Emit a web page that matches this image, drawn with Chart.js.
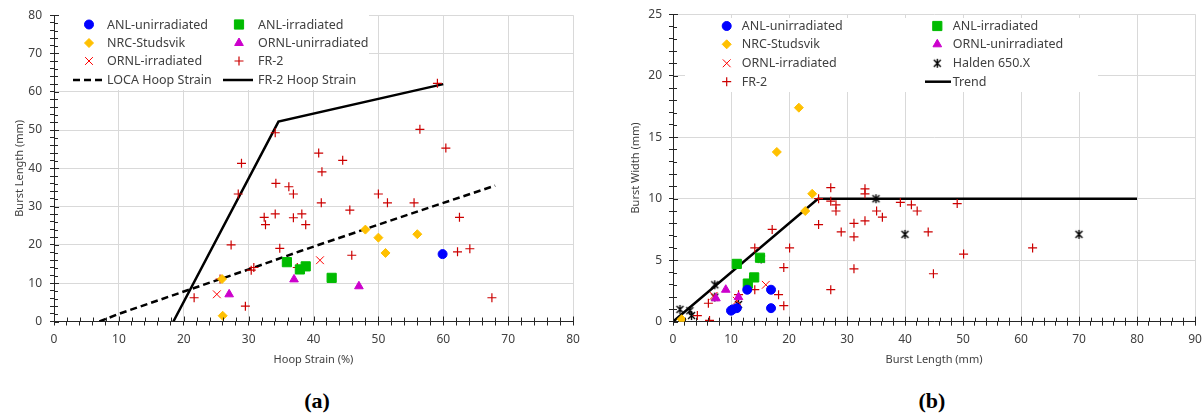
<!DOCTYPE html>
<html>
<head>
<meta charset="utf-8">
<script src="https://cdn.jsdelivr.net/npm/chart.js@4/dist/chart.umd.min.js"></script>
<style>
  body { margin: 0; background: #fff; width: 1203px; height: 416px; position: relative; overflow: hidden; }
  canvas { position: absolute; top: 0; }
  #chart-a { left: 0; }
  #chart-b { left: 612px; }
  .cap { position: absolute; top: 388px; width: 60px; margin-left: -30px; text-align: center;
         font: bold 22px "Liberation Serif", serif; color: #000; }
</style>
</head>
<body>
<canvas id="chart-a" width="600" height="372"></canvas>
<canvas id="chart-b" width="600" height="372"></canvas>
<div class="cap" style="left:317px">(a)</div>
<div class="cap" style="left:932px">(b)</div>
<script>
// (a) hoop strain (%) vs burst length (mm)
const anlUnirrA = [[59.9, 17.6]];
const anlIrrA = [[35.9, 15.5], [37.9, 13.6], [38.8, 14.4], [42.8, 11.4]];
const nrcA = [[26, 1.5], [25.9, 11.1], [48, 24], [50, 21.9], [56, 22.8], [51.1, 17.9]];
const ornlUnirrA = [[27, 7.1], [37, 11], [47, 9.2]];
const ornlIrrA = [[25.1, 7.1], [41, 16]];
const fr2A = [
  [34.1, 49.3], [28.9, 41.3], [34.2, 36.1], [36.2, 35.2], [36.9, 33.3], [28.4, 33.3],
  [59.1, 62.2], [56.4, 50.2], [60.4, 45.3], [40.8, 44], [44.5, 42.1], [41.3, 39.1],
  [41.2, 31], [32.4, 27.2], [34.1, 28.1], [38.2, 28.1], [32.6, 25.3], [36.9, 27.1],
  [38.8, 25.3], [27.3, 20], [34.8, 19.1], [30.4, 13.4], [30.8, 14.1], [37.5, 14.1],
  [25.6, 11.1], [21.6, 6.2], [29.5, 4], [45.6, 29.1], [50, 33.3], [51.4, 31],
  [55.5, 31], [62.5, 27.2], [45.9, 17.3], [62.2, 18.2], [64.1, 19], [67.5, 6.2]
];
const locaHoop = [[7, 0], [10, 2], [21, 8.4], [30, 13.6], [38, 18.4], [50, 25.3], [68, 35.5]];
const fr2Hoop = [[18.4, 0], [34.6, 52.2], [60, 62]];

// (b) burst length (mm) vs burst width (mm)
const anlUnirrB = [[10, 0.9], [10.3, 1.0], [11, 1.1], [12.8, 2.6], [16.9, 2.6], [16.9, 1.1]];
const anlIrrB = [[11, 4.7], [15, 5.2], [12.9, 3.1], [14, 3.6]];
const nrcB = [[1.5, 0.2], [22.8, 9.0], [24, 10.4], [21.7, 17.4], [17.9, 13.8]];
const ornlUnirrB = [[7.4, 1.9], [9.1, 2.6], [11.3, 2.0]];
const ornlIrrB = [[16, 3.0], [7, 2.1], [11, 1.7]];
const haldenB = [[1.2, 1.0], [2.9, 0.9], [3.2, 0.5], [7.2, 3.0], [7.2, 2.0], [11.3, 1.4], [15.2, 5.1], [35, 10], [40, 7.1], [70, 7.1]];
const fr2B = [
  [25.1, 10], [27.2, 10.9], [27.2, 9.8], [28.1, 9.5], [28.1, 9.0], [33.1, 10.8],
  [33.1, 10.4], [35.1, 9.0], [36.1, 8.5], [39.2, 9.7], [41.1, 9.5], [42.1, 9.0],
  [33.1, 8.2], [31.2, 8.0], [31.2, 6.9], [29, 7.3], [25.1, 7.9], [31.2, 4.3],
  [27.2, 2.6], [20.1, 6.0], [17.1, 7.5], [14.1, 6.0], [19.1, 4.4], [13.2, 3.4],
  [14.1, 2.6], [18.2, 2.2], [19.1, 1.3], [6.1, 1.5], [6.3, 0.1], [4.2, 0.5],
  [11.3, 2.2], [49, 9.6], [44, 7.3], [50.1, 5.5], [44.9, 3.9], [62, 6.0]
];
const trendB = [[0, 0], [25, 10], [80, 10]];

const gridColor = '#d9d9d9';
const axisColor = '#262626';
const textColor = '#404040';
Chart.defaults.font.family = '"Noto Sans", sans-serif';
Chart.defaults.color = textColor;

const pts = arr => arr.map(([x, y]) => ({ x, y }));

// excel style star: x plus a vertical bar
const star = document.createElement('canvas');
star.width = 11; star.height = 11;
(() => {
  const c = star.getContext('2d');
  c.strokeStyle = '#000'; c.lineWidth = 1.4;
  c.beginPath();
  c.moveTo(2, 2); c.lineTo(9, 9);
  c.moveTo(9, 2); c.lineTo(2, 9);
  c.moveTo(5.5, 1); c.lineTo(5.5, 10);
  c.stroke();
})();

const marker = (label, data, style, color, r, opts = {}) => Object.assign({
  label, data: pts(data), pointStyle: style, pointRadius: r, pointHoverRadius: r,
  backgroundColor: color, borderColor: color, borderWidth: 1, showLine: false
}, opts);

const line = (label, data, dash) => ({
  label, data: pts(data), showLine: true, pointRadius: 0, pointHoverRadius: 0,
  borderColor: '#000', backgroundColor: '#000', borderWidth: 2.5, borderDash: dash || [],
  tension: 0
});

// legend laid out in fixed columns with a white box, like excel's
const boxLegend = (box, slots) => ({
  id: 'boxLegend',
  beforeDatasetsDraw(chart) {
    const ctx = chart.ctx;
    ctx.save();
    ctx.fillStyle = '#fff';
    ctx.fillRect(box[0], box[1], box[2], box[3]);
    ctx.font = '12.5px "Noto Sans"';
    ctx.textBaseline = 'middle';
    chart.data.datasets.forEach((ds, i) => {
      const [mx, y, tx, half] = slots[i];
      ctx.fillStyle = ds.backgroundColor;
      ctx.strokeStyle = ds.borderColor;
      ctx.lineWidth = ds.borderWidth;
      if (ds.showLine) {
        ctx.setLineDash(ds.borderDash);
        ctx.beginPath();
        ctx.moveTo(mx - half, y);
        ctx.lineTo(mx + half, y);
        ctx.stroke();
        ctx.setLineDash([]);
      } else {
        Chart.helpers.drawPoint(ctx, { pointStyle: ds.pointStyle, radius: ds.pointRadius, rotation: 0, borderWidth: ds.borderWidth }, mx, y);
      }
      ctx.fillStyle = textColor;
      ctx.fillText(ds.label, tx, y + 0.5);
    });
    ctx.restore();
  }
});

// inner half of the tick marks, so they cross the axis lines
const crossTicks = (xMajor, yMajor) => ({
  id: 'crossTicks',
  afterDraw(chart) {
    const ctx = chart.ctx;
    const sx = chart.scales.x, sy = chart.scales.y;
    ctx.save();
    ctx.strokeStyle = axisColor;
    ctx.lineWidth = 1;
    ctx.beginPath();
    sx.ticks.forEach(t => {
      const p = Math.round(sx.getPixelForValue(t.value)) + 0.5;
      const l = t.value % xMajor === 0 ? 5 : 4;
      ctx.moveTo(p, sx.top - l);
      ctx.lineTo(p, sx.top);
    });
    sy.ticks.forEach(t => {
      const p = Math.round(sy.getPixelForValue(t.value)) + 0.5;
      const l = t.value % yMajor === 0 ? 5 : 4;
      ctx.moveTo(sy.right, p);
      ctx.lineTo(sy.right + l, p);
    });
    ctx.stroke();
    ctx.restore();
  }
});

const axis = (min, max, step, major, title, fit) => ({
  type: 'linear', min, max,
  afterFit: fit,
  border: { color: axisColor, width: 1 },
  grid: {
    drawTicks: true,
    tickLength: 4,
    tickColor: axisColor,
    tickWidth: 1,
    color: c => c.tick && c.tick.value % major === 0 ? gridColor : 'rgba(0,0,0,0)'
  },
  ticks: {
    stepSize: step, autoSkip: false, maxRotation: 0,
    font: { size: 12 }, color: textColor,
    callback: v => v % major === 0 ? v : ''
  },
  title: { display: true, text: title, font: { size: 11 }, color: textColor }
});

const baseOptions = (scales, pad) => ({
  responsive: false,
  animation: false,
  layout: { padding: pad },
  plugins: { legend: { display: false }, tooltip: { enabled: false } },
  scales
});

const xA = axis(0, 80, 2, 10, 'Hoop Strain (%)', s => { s.height = 50.5; });
xA.ticks.padding = 7;
xA.title.padding = { top: 2, bottom: 6 };
const yA = axis(0, 80, 2, 10, 'Burst Length (mm)', s => { s.width = 54; });
yA.ticks.padding = 8;
yA.title.padding = { top: 13, bottom: 0 };

new Chart(document.getElementById('chart-a'), {
  type: 'scatter',
  data: {
    datasets: [
      marker('ANL-unirradiated', anlUnirrA, 'circle', '#0000ff', 4.5),
      marker('ANL-irradiated', anlIrrA, 'rect', '#00bb00', 6.5),
      marker('NRC-Studsvik', nrcA, 'rectRot', '#ffc000', 4.5),
      marker('ORNL-unirradiated', ornlUnirrA, 'triangle', '#cc00cc', 5),
      marker('ORNL-irradiated', ornlIrrA, 'crossRot', '#ff0000', 5.5),
      marker('FR-2', fr2A, 'cross', '#cc0000', 4.5, { borderWidth: 1.2 }),
      line('LOCA Hoop Strain', locaHoop, [7, 4]),
      line('FR-2 Hoop Strain', fr2Hoop)
    ]
  },
  options: baseOptions({ x: xA, y: yA }, { top: 13.5, right: 27, left: 0, bottom: 0 }),
  plugins: [
    boxLegend([57, 14, 312, 76], [
      [89, 24.5, 107], [239, 24.5, 258], [89, 43, 107], [239, 43, 258],
      [89, 61, 107], [239, 61, 258], [89, 80, 107, 16], [238, 80, 258, 15]
    ]),
    crossTicks(10, 10)
  ]
});

const xB = axis(0, 90, 2, 10, 'Burst Length (mm)', s => { s.height = 50.3; });
xB.ticks.padding = 7;
xB.title.padding = { top: 2, bottom: 6 };
const yB = axis(0, 25, 1, 5, 'Burst Width (mm)', s => { s.width = 61; });
yB.ticks.padding = 7;
yB.title.padding = { top: 17, bottom: 0 };

new Chart(document.getElementById('chart-b'), {
  type: 'scatter',
  data: {
    datasets: [
      marker('ANL-unirradiated', anlUnirrB, 'circle', '#0000ff', 4.5),
      marker('ANL-irradiated', anlIrrB, 'rect', '#00bb00', 6.5),
      marker('NRC-Studsvik', nrcB, 'rectRot', '#ffc000', 4.5),
      marker('ORNL-unirradiated', ornlUnirrB, 'triangle', '#cc00cc', 5),
      marker('ORNL-irradiated', ornlIrrB, 'crossRot', '#ff0000', 5.5),
      marker('Halden 650.X', haldenB, star, '#000000', 5.5),
      marker('FR-2', fr2B, 'cross', '#cc0000', 4.5, { borderWidth: 1.2 }),
      line('Trend', trendB)
    ]
  },
  options: baseOptions({ x: xB, y: yB }, { top: 11.7, right: 17, left: 0, bottom: 0 }),
  plugins: [
    boxLegend([73, 18, 413, 74], [
      [114.7, 26, 129.7], [325.3, 26, 340.7], [114.7, 44.3, 129.7], [325.3, 44.3, 340.7],
      [114.7, 63.3, 129.7], [325.3, 63.3, 340.7], [114.7, 81.7, 129.7], [326, 81.7, 340.7, 13]
    ]),
    crossTicks(10, 5)
  ]
});
</script>
</body>
</html>
